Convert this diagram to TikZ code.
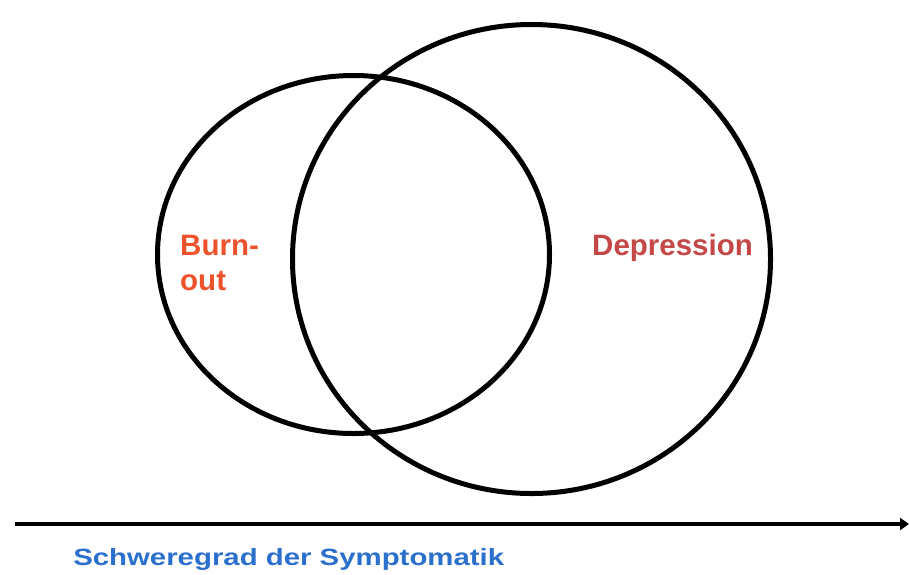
\documentclass[tikz,border=0pt]{standalone}
\usepackage{fontspec}
\setmainfont{Liberation Sans}
\usetikzlibrary{arrows.meta}
\definecolor{burnred}{RGB}{238,82,44}
\definecolor{deprred}{RGB}{196,72,72}
\definecolor{axisblue}{RGB}{44,112,206}
\begin{document}
\begin{tikzpicture}[x=1pt,y=-1pt,
  ring/.style={draw=black,line width=5pt},
  lbl/.style={font=\bfseries\fontsize{29.5}{31}\selectfont,inner sep=0pt,anchor=base west}]
\useasboundingbox (0,0) rectangle (909,574);
% overlapping sets
\draw[ring] (353.5,254.5) ellipse [x radius=196, y radius=179];
\draw[ring] (531.5,259) ellipse [x radius=239, y radius=234.5];
% set labels
\node[lbl,text=burnred] (burn) at (180,255) {Burn-};
\node[lbl,text=burnred] (out) at (180,290) {out};
\node[lbl,text=deprred] (dep) at (592,255) {Depression};
% severity axis
\coordinate (axL) at (15,524);
\coordinate (axR) at (909,524);
\draw[line width=4pt,-{Triangle[length=9pt,width=12pt]}] (axL) -- (axR);
\node[inner sep=0pt,anchor=base west,text=axisblue,xscale=1.25,
  font=\bfseries\fontsize{23.5}{25}\selectfont] (sev) at (73,565) {Schweregrad der Symptomatik};
\end{tikzpicture}
\end{document}
